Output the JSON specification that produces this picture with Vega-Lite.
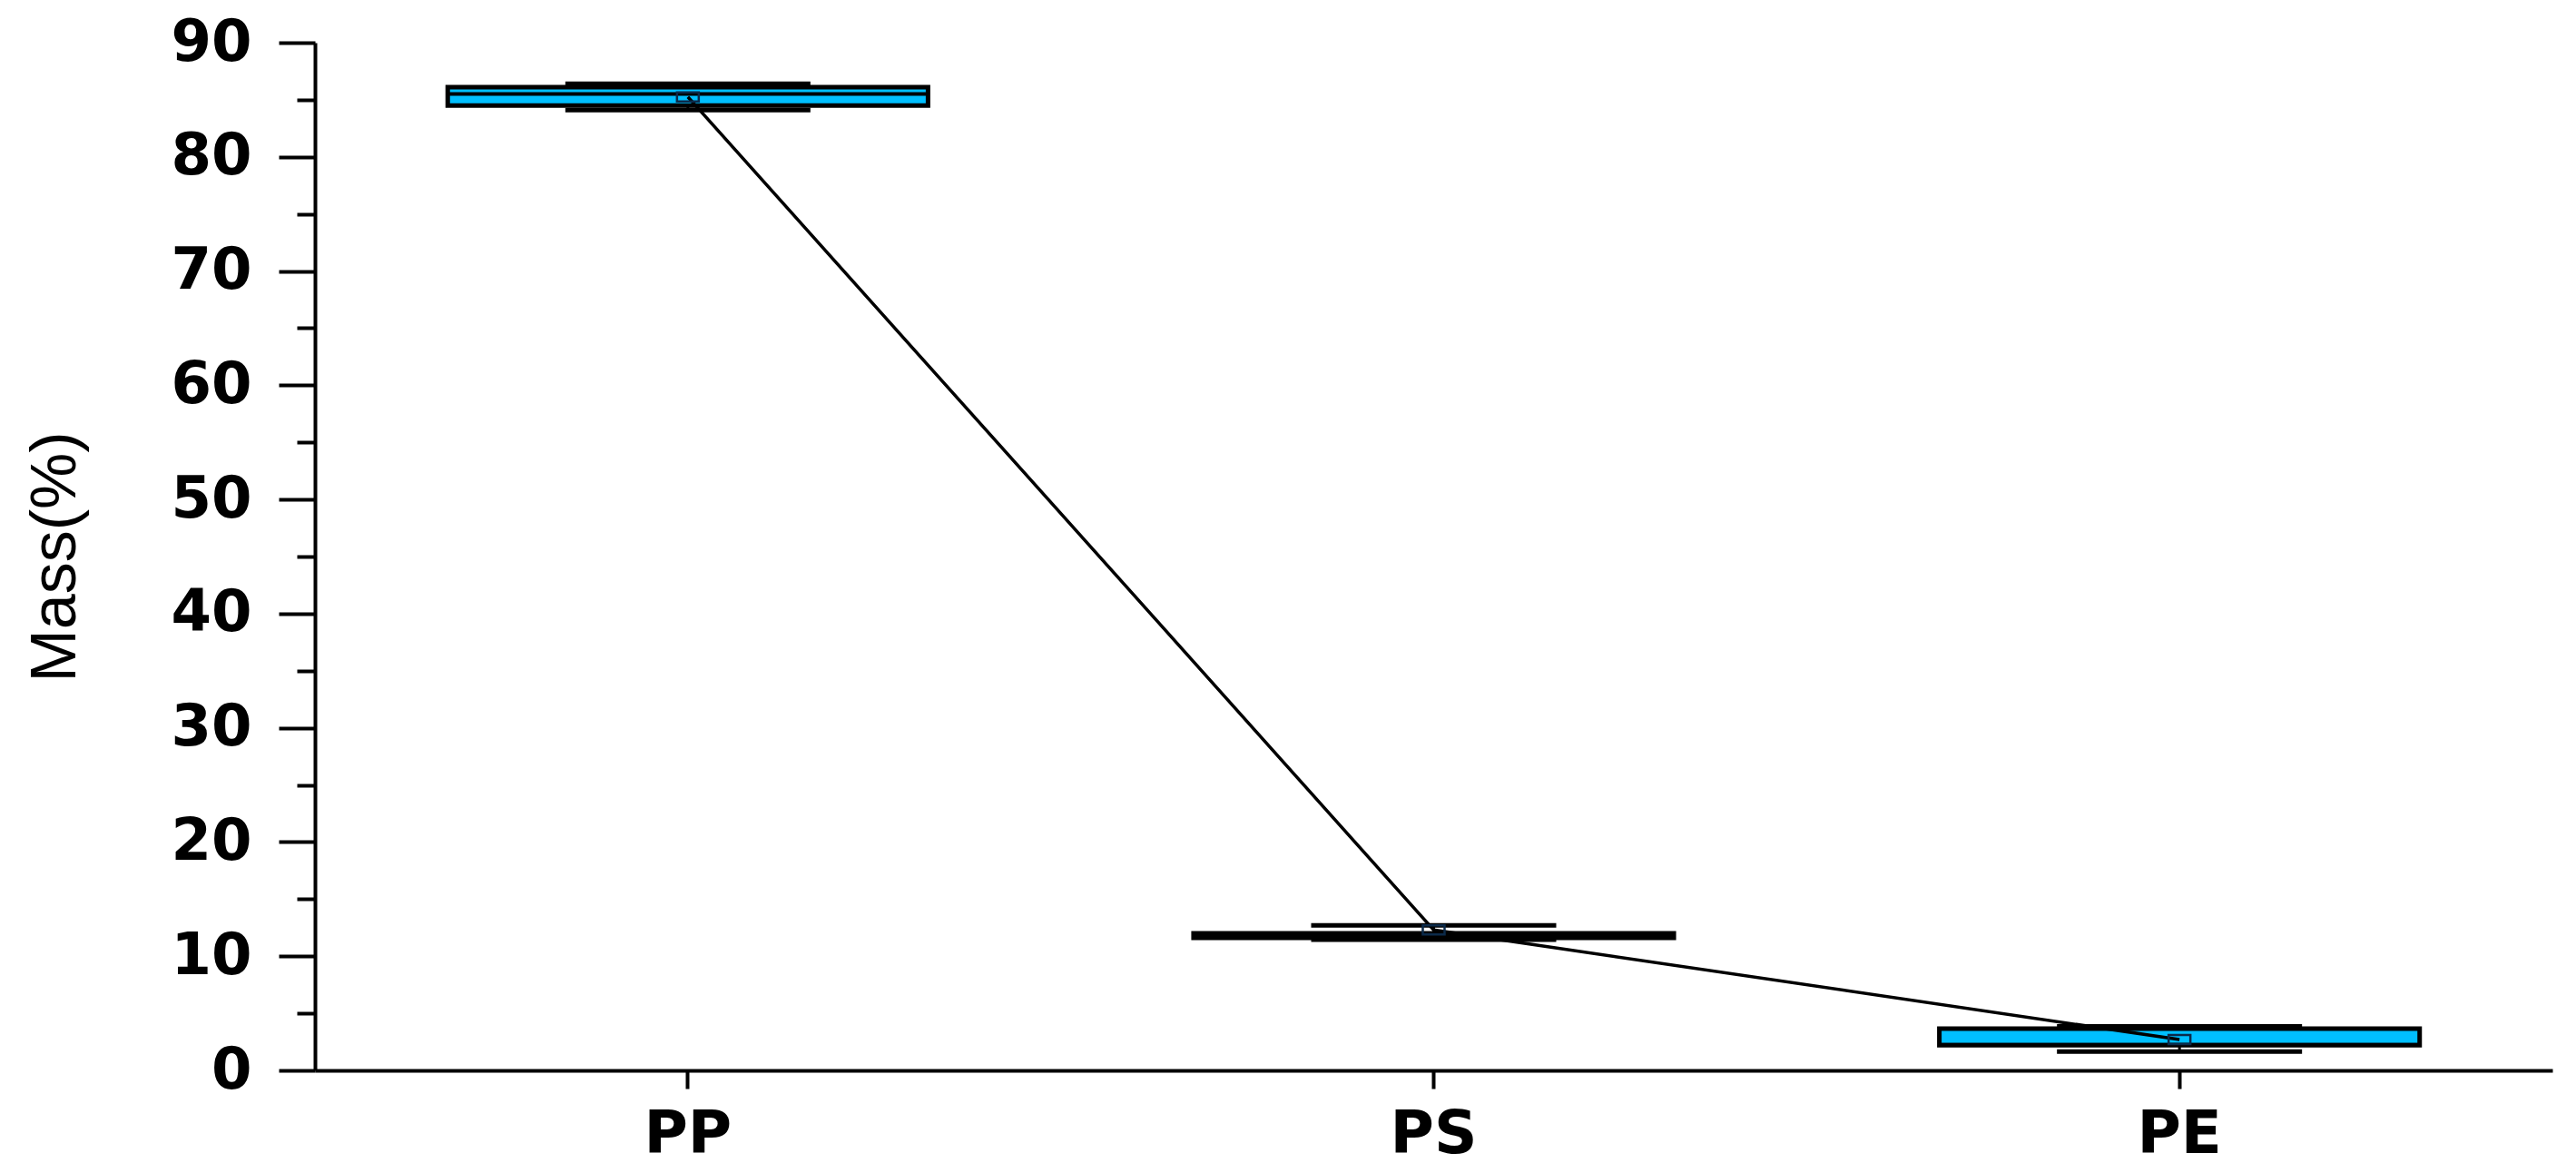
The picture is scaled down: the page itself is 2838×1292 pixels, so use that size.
{
  "$schema": "https://vega.github.io/schema/vega-lite/v6.json",
  "width": 2465,
  "height": 1132,
  "autosize": {"type": "none"},
  "padding": {"left": 347, "top": 47, "right": 26, "bottom": 113},
  "background": "white",
  "config": {
    "view": {"stroke": null},
    "axis": {"grid": false, "domainColor": "black", "tickColor": "black", "labelColor": "black", "titleColor": "black", "domainWidth": 4, "tickWidth": 4}
  },
  "data": {
    "values": [
      {"cat": "PP", "min": 84.1, "q1": 84.5, "median": 85.5, "q3": 86.1, "max": 86.4, "mean": 85.25},
      {"cat": "PS", "min": 11.45, "q1": 11.6, "median": 11.8, "q3": 12.0, "max": 12.7, "mean": 12.3},
      {"cat": "PE", "min": 1.65, "q1": 2.2, "median": 2.25, "q3": 3.65, "max": 3.85, "mean": 2.7}
    ]
  },
  "encoding": {
    "x": {
      "field": "cat", "type": "nominal",
      "scale": {"domain": ["PP", "PS", "PE"], "paddingInner": 0, "paddingOuter": 0},
      "axis": {"title": null, "labelAngle": 0, "labelFont": "DejaVu Sans", "labelFontWeight": "bold", "labelFontSize": 66, "tickSize": 20, "labelPadding": 18, "labelBaseline": "top"}
    }
  },
  "layer": [
    {
      "mark": {"type": "rule", "color": "black", "strokeWidth": 3},
      "encoding": {
        "y": {
          "field": "max", "type": "quantitative",
          "scale": {"domain": [0, 90], "nice": false},
          "axis": {
            "title": "Mass(%)", "titleFont": "Liberation Sans", "titleFontWeight": "normal", "titleFontSize": 70, "titlePadding": 90,
            "values": [0, 5, 10, 15, 20, 25, 30, 35, 40, 45, 50, 55, 60, 65, 70, 75, 80, 85, 90],
            "labelExpr": "datum.value % 10 === 0 ? datum.label : ''",
            "tickSize": {"condition": {"test": "datum.value % 10 === 0", "value": 40}, "value": 20},
            "labelFont": "DejaVu Sans", "labelFontWeight": "bold", "labelFontSize": 64, "labelPadding": 30
          }
        },
        "y2": {"field": "q3"}
      }
    },
    {
      "mark": {"type": "rule", "color": "black", "strokeWidth": 3},
      "encoding": {"y": {"field": "min", "type": "quantitative", "title": "Mass(%)"}, "y2": {"field": "q1"}}
    },
    {
      "mark": {"type": "tick", "color": "black", "opacity": 1, "size": 270, "thickness": 5},
      "encoding": {"y": {"field": "max", "type": "quantitative", "title": "Mass(%)"}}
    },
    {
      "mark": {"type": "tick", "color": "black", "opacity": 1, "size": 270, "thickness": 5},
      "encoding": {"y": {"field": "min", "type": "quantitative", "title": "Mass(%)"}}
    },
    {
      "mark": {"type": "bar", "fill": "#00BFFF", "stroke": "black", "strokeWidth": 5, "width": {"band": 0.644}},
      "encoding": {"y": {"field": "q1", "type": "quantitative", "title": "Mass(%)"}, "y2": {"field": "q3"}}
    },
    {
      "mark": {"type": "tick", "color": "black", "opacity": 1, "size": 529, "thickness": 4},
      "encoding": {"y": {"field": "median", "type": "quantitative", "title": "Mass(%)"}}
    },
    {
      "mark": {"type": "line", "color": "black", "strokeWidth": 3.5},
      "encoding": {"y": {"field": "mean", "type": "quantitative", "title": "Mass(%)"}}
    },
    {
      "mark": {"type": "point", "shape": "M-1,-0.42H1V0.42H-1Z", "size": 576, "filled": false, "stroke": "#0b2a4a", "strokeWidth": 2.5, "opacity": 1},
      "encoding": {"y": {"field": "mean", "type": "quantitative", "title": "Mass(%)"}}
    }
  ]
}
